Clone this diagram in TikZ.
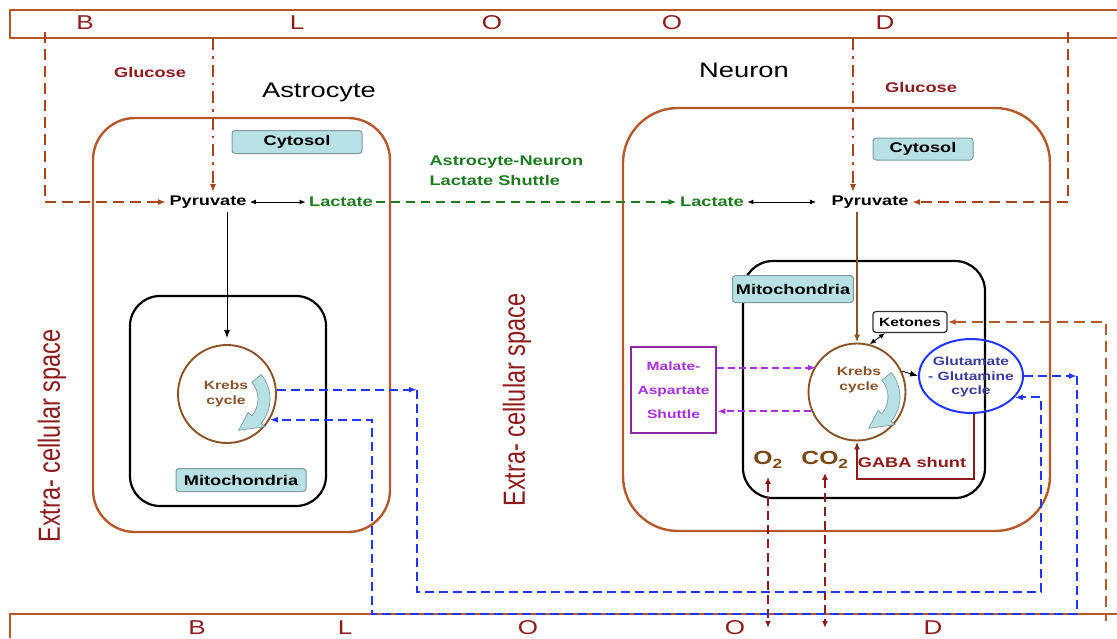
\documentclass[tikz,border=0pt]{standalone}
\usepackage{fontspec}
\usepackage{graphicx}
\setmainfont[FakeStretch=1.3]{Liberation Sans}
\newfontfamily\uprightsans{Liberation Sans}
\usetikzlibrary{arrows.meta,shapes.geometric}
\definecolor{bandbrown}{HTML}{B5582C}
\definecolor{bloodred}{HTML}{8E1B1B}
\definecolor{glucbrown}{HTML}{A9461C}
\definecolor{lacgreen}{HTML}{1E7A1E}
\definecolor{cytofill}{HTML}{B8E1E5}
\definecolor{cytoline}{HTML}{7E9A9E}
\definecolor{krebsbrown}{HTML}{8A5226}
\definecolor{flowblue}{HTML}{2035FF}
\definecolor{glunavy}{HTML}{3B3B9C}
\definecolor{masline}{HTML}{8B2A9E}
\definecolor{masviolet}{HTML}{A630E0}
\definecolor{gasbrown}{HTML}{7A4813}
\newcommand{\cyclearrow}[1]{%
  \filldraw[fill=cytofill, draw=cytoline, line width=0.7pt, shift={(#1.center)}, shift={(5,5)}]
    (-40:38) arc (-40:40:38) -- (40:43) -- (78:32) -- (40:21) -- (40:26)
    arc (40:-40:26) -- cycle;}

\begin{document}
\begin{tikzpicture}[
        x = 1pt, y = -1pt,
        >= {Latex[length=8pt,width=6pt]},
        bloodband/.style = {draw=bandbrown, line width=2.3pt},
        letter/.style = {text=bloodred, font=\fontsize{20}{24}\selectfont},
        cellwall/.style = {draw=bandbrown, line width=2.4pt},
        mitowall/.style = {draw=black, line width=2.2pt, rounded corners=30pt},
        title/.style = {font=\fontsize{21}{25}\selectfont},
        tag/.style = {draw=cytoline, fill=cytofill, rounded corners=3pt, line width=1pt, font=\bfseries\fontsize{14}{16}\selectfont},
        metab/.style = {font=\bfseries\fontsize{14}{16}\selectfont},
        gluclbl/.style = {text=bloodred, font=\bfseries\fontsize{14}{16}\selectfont},
        glucdash/.style = {draw=glucbrown, line width=2.3pt, dash pattern=on 11pt off 6pt},
        glucdot/.style = {draw=glucbrown, line width=2.4pt, dash pattern=on 12pt off 6pt on 2.5pt off 6pt},
        lacflow/.style = {draw=lacgreen, line width=1.8pt, dash pattern=on 9pt off 6pt},
        twoway/.style = {{Latex[length=6pt,width=5pt]}-{Latex[length=6pt,width=5pt]}, line width=0.9pt},
        krebs/.style = {circle, draw=krebsbrown, line width=1.9pt, minimum size=98pt, inner sep=0pt},
        krebslbl/.style = {text=krebsbrown, align=center, font=\bfseries\fontsize{12}{14.5}\selectfont},
        krebsline/.style = {draw=krebsbrown, line width=1.8pt},
        bluepath/.style = {draw=flowblue, line width=2pt, dash pattern=on 9pt off 5pt},
        glucyc/.style = {ellipse, draw=flowblue, line width=2pt, minimum width=104pt, minimum height=74pt, inner sep=0pt},
        glulbl/.style = {text=glunavy, align=center, font=\bfseries\fontsize{12}{14.5}\selectfont},
        ketbox/.style = {draw=black!80, fill=white, rounded corners=3pt, line width=1.3pt, minimum width=74pt, minimum height=21pt, font=\bfseries\fontsize{12}{14}\selectfont},
        ketflow/.style = {draw=bandbrown, line width=2.8pt, dash pattern=on 11pt off 6pt},
        masbox/.style = {draw=masline, line width=2.5pt, minimum width=85pt, minimum height=86pt, align=center, text=masviolet, font=\bfseries\fontsize{12}{24}\selectfont},
        masflow/.style = {draw=masviolet, line width=1.7pt, dash pattern=on 7pt off 4pt},
        gaba/.style = {draw=bloodred, line width=2pt},
        gabalbl/.style = {text=bloodred, font=\bfseries\fontsize{14}{16}\selectfont},
        gaslbl/.style = {text=gasbrown, font=\bfseries\fontsize{19}{22}\selectfont},
        gasflow/.style = {draw=bloodred, line width=2.6pt, dash pattern=on 9pt off 5pt, {Latex[length=7pt,width=6pt]}-{Latex[length=7pt,width=6pt]}},
        ecslbl/.style = {rotate=90, text=bloodred, font=\uprightsans\fontsize{23.5}{28}\selectfont}
    ]
        \useasboundingbox (0,0) rectangle (1117,638);
        \draw[bloodband] (1117,10) -- (10,10) -- (10,38) -- (1117,38);
        \draw[bloodband] (10,638) -- (10,614) -- (1117,614);
        \node[letter] (top1) at (85,23) {B};
        \node[letter] (top2) at (297,23) {L};
        \node[letter] (top3) at (492,23) {O};
        \node[letter] (top4) at (672,23) {O};
        \node[letter] (top5) at (885,23) {D};
        \node[letter] (bot1) at (197,628) {B};
        \node[letter] (bot2) at (345,628) {L};
        \node[letter] (bot3) at (528,628) {O};
        \node[letter] (bot4) at (735,628) {O};
        \node[letter] (bot5) at (933,628) {D};

        \draw[cellwall, rounded corners=42pt] (93,118) rectangle (390,532);
        \draw[cellwall, rounded corners=55pt] (623,108) rectangle (1050,531);
        \draw[mitowall] (130,296) rectangle (326,506);
        \draw[mitowall] (743,261) rectangle (985,498);
        \node[title] (astro) at (319,92) {Astrocyte};
        \node[title] (neuron) at (744,70) {Neuron};
        \node[ecslbl] (ecs1) at (52,436) {\scalebox{1}[1.3]{Extra- cellular space}};
        \node[ecslbl] (ecs2) at (517,400) {\scalebox{1}[1.3]{Extra- cellular space}};

        \node[metab] (apyr) at (208,202) {Pyruvate};
        \node[metab, text=lacgreen] (alac) at (341,202) {Lactate};
        \node[metab, text=lacgreen] (nlac) at (712,202) {Lactate};
        \node[metab] (npyr) at (870,202) {Pyruvate};
        \node[gluclbl] (aglucl) at (150,72) {Glucose};
        \node[gluclbl] (nglucl) at (921,87) {Glucose};
        \node[metab, text=lacgreen, align=left, anchor=west, font=\bfseries\fontsize{14}{20}\selectfont] (anls) at (426,171) {Astrocyte-Neuron\\Lactate Shuttle};

        \coordinate (aglutop) at (213,38);
        \coordinate (aglulft) at (45,32);
        \coordinate (nglutop) at (853,38);
        \coordinate (nglurgt) at (1068,32);
        \draw[glucdot,->] (aglutop) -- (aglutop |- apyr.north);
        \draw[glucdash,->] (aglulft) |- (apyr.west);
        \draw[glucdot,->] (nglutop) -- (nglutop |- npyr.north);
        \draw[glucdash,->] (nglurgt) |- (npyr.east);
        \draw[twoway] (apyr.east) -- (alac.west);
        \draw[lacflow,->] (alac.east) -- (nlac.west);
        \draw[twoway, shorten >=12pt] (nlac.east) -- (npyr.west);

        \node[krebs] (akrebs) at (227,394) {};
        \node[krebslbl] (akrebslbl) at (226,394) {Krebs\\cycle};
        \cyclearrow{akrebs}
        \node[krebs, minimum size=97pt] (nkrebs) at (857,392) {};
        \node[krebslbl] (nkrebslbl) at (859,380) {Krebs\\cycle};
        \cyclearrow{nkrebs}
        \draw[->, line width=0.9pt, shorten >=6pt] (akrebs.north |- apyr.south) -- (akrebs.north);
        \draw[krebsline,->] (nkrebs.north |- npyr.south) -- (nkrebs.north);

        \node[glucyc] (glu) at (971,376) {};
        \node[glulbl] (glulbl) at (971,377) {Glutamate\\- Glutamine\\cycle};
        \node[ketbox] (ket) at (910,322) {Ketones};
        \draw[twoway] (nkrebs.75) -- (ket.204);
        \draw[->, line width=0.9pt] (nkrebs.25) -- (glu.west);
        \coordinate (ketend) at (1106,621);
        \draw[ketflow,<-] (ket.east) -| (ketend);

        \node[masbox] (mas) at (673.5,390) {Malate-\\Aspartate\\Shuttle};
        \draw[masflow,->] (mas.27) -- (mas.27 -| nkrebs.146);
        \draw[masflow,->] (nkrebs.203) -- (nkrebs.203 -| mas.east);

        \draw[gaba,->] (glu.-85) -- ++(0,65) -| (nkrebs.south);
        \node[gabalbl] (gabalbl) at (912,462) {GABA shunt};
        \node[gaslbl] (o2) at (768,460) {O\textsubscript{2}};
        \node[gaslbl] (co2) at (825,460) {CO\textsubscript{2}};
        \coordinate (gasbot) at (0,628);
        \draw[gasflow, shorten <=5pt] (o2.south) -- (o2.south |- gasbot);
        \draw[gasflow, shorten <=1pt] (co2.south) -- (co2.south |- gasbot);

        \coordinate (bluein1) at (417,592);
        \coordinate (bluein2) at (1041,592);
        \coordinate (blueout1) at (1077,614);
        \coordinate (blueout2) at (372,614);
        \draw[bluepath,->] (akrebs.5) -- (akrebs.5 -| bluein1);
        \draw[bluepath,->] (akrebs.5 -| bluein1) -- (bluein1) -- (bluein2) |- (glu.-26);
        \draw[bluepath,->] (glu.east) -- (glu.east -| blueout1);
        \draw[bluepath,->] (glu.east -| blueout1) -- (blueout1) -- (blueout2) |- (akrebs.-31);

        \node[tag, minimum width=130pt, minimum height=23pt] (acyto) at (297,142) {Cytosol};
        \node[tag, minimum width=100pt, minimum height=22pt] (ncyto) at (923,149) {Cytosol};
        \node[tag, minimum width=130pt, minimum height=23pt] (amito) at (241,480) {Mitochondria};
        \node[tag, minimum width=120pt, minimum height=27pt] (nmito) at (793,289) {Mitochondria};
\end{tikzpicture}
\end{document}
